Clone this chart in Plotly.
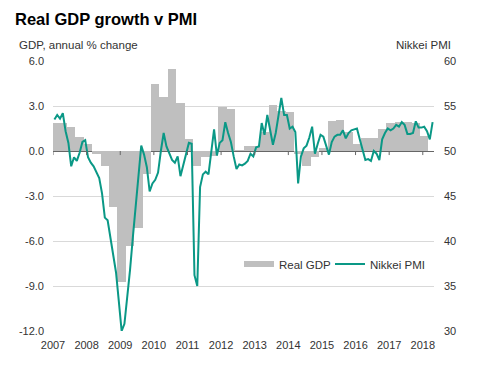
import plotly.graph_objects as go

# ---------------- data ----------------
title_text = "Real GDP growth v PMI"

# quarterly real GDP, annual % change (2007Q1 .. 2018Q1)
gdp_years = [2007] * 4 + [2008] * 4 + [2009] * 4 + [2010] * 4 + [2011] * 4 + [2012] * 4 + \
            [2013] * 4 + [2014] * 4 + [2015] * 4 + [2016] * 4 + [2017] * 4 + [2018]
gdp_quarters = [1, 2, 3, 4] * 11 + [1]
gdp_values = [1.9, 1.9, 1.6, 0.95,
              0.5, -0.2, -1.0, -3.7,
              -8.7, -6.3, -5.1, -1.5,
              4.5, 3.6, 5.5, 3.2,
              0.8, -1.0, -0.4, -0.3,
              2.95, 2.8, 0.05, 0.35,
              0.35, 1.3, 3.05, 2.7,
              2.6, -0.2, -1.0, -0.4,
              0.2, 2.0, 2.1, 1.3,
              0.5, 0.9, 0.9, 1.5,
              1.9, 1.95, 1.95, 1.9,
              1.0]

# monthly Nikkei PMI (Jan 2007 .. Apr 2018)
pmi_values = [
    53.5, 54.0, 53.6, 54.2, 52.2, 50.9, 48.3, 49.3, 48.9, 49.8, 51.0, 51.2,   # 2007
    49.3, 48.7, 48.3, 47.7, 47.0, 45.3, 42.6, 42.3, 40.3, 38.8, 36.5, 33.3,   # 2008
    30.0, 30.8, 33.5, 36.8, 40.4, 44.0, 47.3, 50.6, 49.6, 48.2, 45.5, 46.4,   # 2009
    46.8, 47.6, 50.0, 52.0, 50.5, 49.8, 49.0, 48.7, 49.4, 47.2, 48.5, 49.6,   # 2010
    50.9, 50.8, 36.2, 35.0, 46.0, 47.4, 47.7, 47.4, 49.7, 52.4, 49.5, 50.9,   # 2011
    51.2, 53.2, 52.0, 51.0, 49.4, 48.0, 48.5, 48.4, 48.6, 48.9, 49.7, 49.4,   # 2012
    50.4, 50.5, 53.1, 51.8, 54.0, 52.5, 50.7, 52.0, 53.8, 55.9, 54.0, 54.0,   # 2013
    52.5, 52.7, 52.1, 46.4, 49.4, 50.3, 50.6, 51.5, 52.7, 49.7, 50.8, 51.8,   # 2014
    51.6, 50.5, 49.6, 51.0, 51.6, 51.8, 51.8, 52.3, 51.4, 52.0, 52.3, 52.4,   # 2015
    52.5, 51.3, 50.1, 49.0, 49.1, 48.9, 50.0, 49.7, 49.0, 51.3, 52.0, 52.5,   # 2016
    52.3, 52.5, 52.9, 52.7, 53.2, 52.9, 51.9, 51.9, 52.0, 53.3, 52.6, 52.6,   # 2017
    52.7, 52.2, 51.3, 53.2,                                                   # 2018
]
pmi_start_year = 2007

year_ticks = [2007, 2008, 2009, 2010, 2011, 2012, 2013, 2014, 2015, 2016, 2017, 2018]
year_labels = [str(y) for y in year_ticks]
gdp_ticks = [-12, -9, -6, -3, 0, 3, 6]
gdp_tick_labels = ["-12.0", "-9.0", "-6.0", "-3.0", "0.0", "3.0", "6.0"]
pmi_ticks = [30, 35, 40, 45, 50, 55, 60]
pmi_tick_labels = ["30", "35", "40", "45", "50", "55", "60"]

# ---------------- positions on a decimal-year axis ----------------
gdp_x = [y + (q - 1) / 4 + 1 / 24 for y, q in zip(gdp_years, gdp_quarters)]
pmi_x = [pmi_start_year + (i + 0.5) / 12 for i in range(len(pmi_values))]

FONT = "Liberation Sans, Arial, sans-serif"
GREY_BAR = "#bfbfbf"
TEAL = "#0a9886"
TXT = "#333333"

# the page body has an 8px default margin, so the figure is drawn 8px smaller
W, H = 476, 361

fig = go.Figure()
fig.add_trace(go.Bar(
    x=gdp_x, y=gdp_values, width=[0.25] * len(gdp_x),
    marker=dict(color=GREY_BAR, line=dict(width=0)),
    name="Real GDP", showlegend=False, yaxis="y",
))
fig.add_trace(go.Scatter(
    x=[None], y=[None], mode="lines", name="Real GDP",
    line=dict(color=GREY_BAR, width=6), legend="legend",
))
fig.add_trace(go.Scatter(
    x=pmi_x, y=pmi_values, mode="lines", name="Nikkei PMI",
    line=dict(color=TEAL, width=2), yaxis="y2", legend="legend2",
))

# small year tick marks hanging below the zero line
for yr in year_ticks:
    fig.add_shape(type="line", xref="x", yref="y", x0=yr, x1=yr, y0=0, y1=-0.27,
                  line=dict(color="#666666", width=1), layer="above")

fig.update_layout(
    width=W, height=H,
    margin=dict(l=45, r=50, t=53, b=38),
    paper_bgcolor="white", plot_bgcolor="white",
    font=dict(family=FONT, size=11, color=TXT),
    bargap=0,
    title=dict(text="<b>" + title_text + "</b>", x=7 / W, xref="container", xanchor="left",
               y=1 - 11 / H, yref="container", yanchor="middle",
               font=dict(family=FONT, size=16.5, color="#000000")),
    xaxis=dict(range=[2007, 2018 + 4 / 12], tickvals=year_ticks, ticktext=year_labels,
               showgrid=False, zeroline=False, showline=False, ticks="",
               ticklabelstandoff=6, tickfont=dict(size=11, color=TXT)),
    yaxis=dict(range=[-12, 6], tickvals=gdp_ticks, ticktext=gdp_tick_labels,
               showgrid=True, gridcolor="#d9d9d9", gridwidth=1,
               zeroline=True, zerolinecolor="#666666", zerolinewidth=1,
               showline=False, ticks="", ticklabelstandoff=8,
               tickfont=dict(size=11, color=TXT)),
    yaxis2=dict(range=[30, 60], tickvals=pmi_ticks, ticktext=pmi_tick_labels,
                overlaying="y", side="right", showgrid=False, zeroline=False,
                showline=False, ticks="", ticklabelstandoff=9,
                tickfont=dict(size=11, color=TXT)),
    legend=dict(x=(239 - 53) / 381, y=(331 - 264) / 270, xanchor="left", yanchor="middle",
                orientation="h", bgcolor="rgba(0,0,0,0)", borderwidth=0,
                itemwidth=30, font=dict(size=11.5, color=TXT)),
    legend2=dict(x=(330 - 53) / 381, y=(331 - 264) / 270, xanchor="left", yanchor="middle",
                 orientation="h", bgcolor="rgba(0,0,0,0)", borderwidth=0,
                 itemwidth=30, font=dict(size=11.5, color=TXT)),
    annotations=[
        dict(text="GDP, annual % change", xref="paper", yref="paper",
             x=(17 - 53) / 381, y=(331 - 45) / 270, xanchor="left", yanchor="middle",
             showarrow=False, font=dict(size=11.5, color=TXT)),
        dict(text="Nikkei PMI", xref="paper", yref="paper",
             x=(453 - 53) / 381, y=(331 - 45) / 270, xanchor="right", yanchor="middle",
             showarrow=False, font=dict(size=11.5, color=TXT)),
    ],
)

fig.write_html("out.html")
